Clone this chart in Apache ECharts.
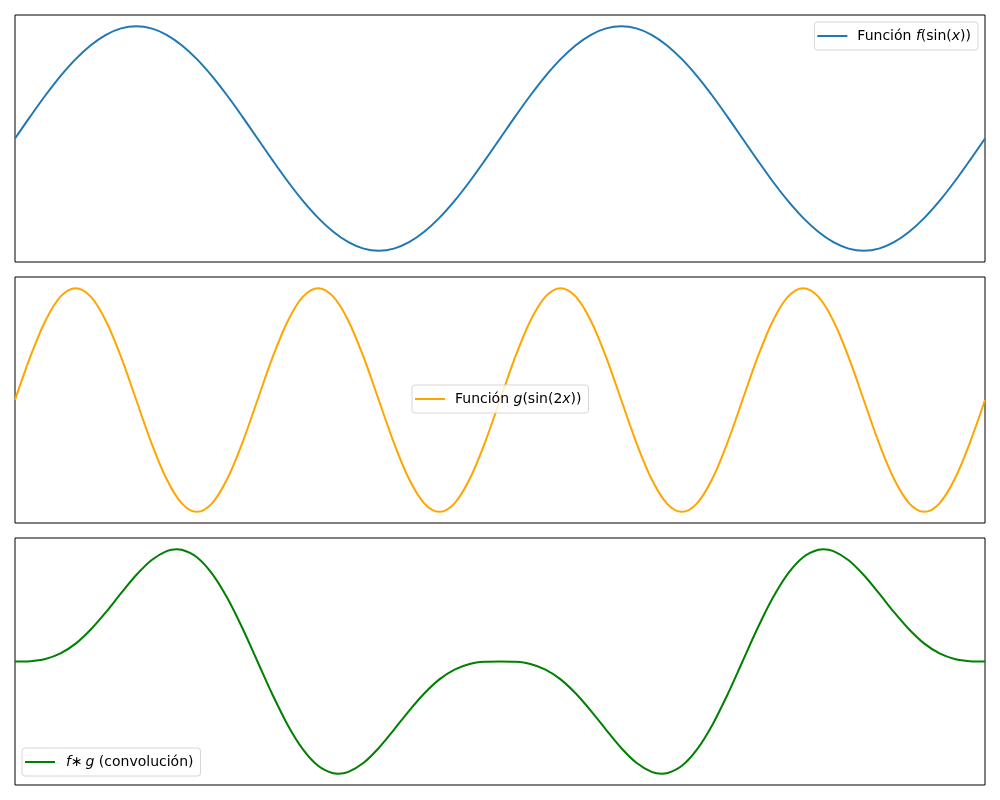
<!DOCTYPE html>
<html>
<head>
<meta charset="utf-8">
<script src="https://cdn.jsdelivr.net/npm/echarts@6/dist/echarts.min.js"></script>
<style>
html,body{margin:0;padding:0;background:#fff;}
#chart{width:1000px;height:800px;}
</style>
</head>
<body>
<div id="chart"></div>
<script>
// Values (x spans 0 .. 4π in 64 equal steps of π/16)
var fValues = [0, 0.195, 0.383, 0.556, 0.707, 0.831, 0.924, 0.981, 1.000, 0.981, 0.924, 0.831, 0.707, 0.556, 0.383, 0.195,
  0, -0.195, -0.383, -0.556, -0.707, -0.831, -0.924, -0.981, -1.000, -0.981, -0.924, -0.831, -0.707, -0.556, -0.383, -0.195,
  0, 0.195, 0.383, 0.556, 0.707, 0.831, 0.924, 0.981, 1.000, 0.981, 0.924, 0.831, 0.707, 0.556, 0.383, 0.195,
  0, -0.195, -0.383, -0.556, -0.707, -0.831, -0.924, -0.981, -1.000, -0.981, -0.924, -0.831, -0.707, -0.556, -0.383, -0.195, 0];

var gValues = [0, 0.383, 0.707, 0.924, 1.000, 0.924, 0.707, 0.383, 0, -0.383, -0.707, -0.924, -1.000, -0.924, -0.707, -0.383,
  0, 0.383, 0.707, 0.924, 1.000, 0.924, 0.707, 0.383, 0, -0.383, -0.707, -0.924, -1.000, -0.924, -0.707, -0.383,
  0, 0.383, 0.707, 0.924, 1.000, 0.924, 0.707, 0.383, 0, -0.383, -0.707, -0.924, -1.000, -0.924, -0.707, -0.383,
  0, 0.383, 0.707, 0.924, 1.000, 0.924, 0.707, 0.383, 0, -0.383, -0.707, -0.924, -1.000, -0.924, -0.707, -0.383, 0];

// Convolution curve: positions (in π/16 steps) and values, with the extrema added
var convX = [0, 1, 2, 3, 4, 5, 6, 7, 8, 9, 10, 10.667, 11, 12, 13, 14, 15,
  16, 17, 18, 19, 20, 21, 21.333, 22, 23, 24, 25, 26, 27, 28, 29, 30, 31,
  32, 33, 34, 35, 36, 37, 38, 39, 40, 41, 42, 42.667, 43, 44, 45, 46, 47,
  48, 49, 50, 51, 52, 53, 53.333, 54, 55, 56, 57, 58, 59, 60, 61, 62, 63, 64];
var convValues = [0, 0.003, 0.022, 0.072, 0.159, 0.285, 0.439, 0.608, 0.770, 0.902, 0.983, 1.000, 0.996, 0.929, 0.783, 0.567, 0.298,
  0, -0.298, -0.567, -0.783, -0.929, -0.996, -1.000, -0.983, -0.902, -0.770, -0.608, -0.439, -0.285, -0.159, -0.072, -0.022, -0.003,
  0, -0.003, -0.022, -0.072, -0.159, -0.285, -0.439, -0.608, -0.770, -0.902, -0.983, -1.000, -0.996, -0.929, -0.783, -0.567, -0.298,
  0, 0.298, 0.567, 0.783, 0.929, 0.996, 1.000, 0.983, 0.902, 0.770, 0.608, 0.439, 0.285, 0.159, 0.072, 0.022, 0.003, 0];

var seriesNames = ['Función f(sin(x))', 'Función g(sin(2x))', 'f * g (convolución)'];
var legendLabels = [
  '{p|Función }{i|f}{n|(sin(}{i|x}{n|))}',
  '{p|Función }{i|g}{n|(sin(2}{i|x}{n|))}',
  '{pi|f}{n|∗\u2009}{i|g}{n| (convolución)}'
];
var seriesColors = ['#1f77b4', '#ffa500', '#008000'];

var fX = fValues.map(function (_, i) { return i; });

function pairs(xs, ys) { return xs.map(function (x, i) { return [x, ys[i]]; }); }
var allData = [pairs(fX, fValues), pairs(fX, gValues), pairs(convX, convValues)];

var chart = echarts.init(document.getElementById('chart'), null, {renderer: 'canvas'});

var grids = [
  {left: 15, right: 15, top: 15, height: 247},
  {left: 15, right: 15, top: 277, height: 246},
  {left: 15, right: 15, top: 538, height: 247}
];
var legendPos = [
  {right: 22, top: 22},
  {left: 412, top: 385},
  {left: 22, top: 748}
];

var rich = {
  p: {fontFamily: 'DejaVu Sans', fontSize: 14, color: '#000', padding: [0, 0, 0, 5]},
  pi: {fontFamily: 'DejaVu Sans', fontStyle: 'italic', fontSize: 14, color: '#000', padding: [0, 0, 0, 6]},
  n: {fontFamily: 'DejaVu Sans', fontSize: 14, color: '#000'},
  i: {fontFamily: 'DejaVu Sans', fontStyle: 'italic', fontSize: 14, color: '#000'}
};

var option = {
  animation: false,
  backgroundColor: '#fff',
  grid: grids.map(function (g) {
    return Object.assign({show: true, borderColor: '#000', borderWidth: 1, backgroundColor: '#fff'}, g);
  }),
  xAxis: grids.map(function (_, i) {
    return {type: 'value', gridIndex: i, min: 0, max: 64,
      axisLine: {show: false}, axisTick: {show: false}, axisLabel: {show: false}, splitLine: {show: false}};
  }),
  yAxis: grids.map(function (_, i) {
    return {type: 'value', gridIndex: i, min: -1.1, max: 1.1,
      axisLine: {show: false}, axisTick: {show: false}, axisLabel: {show: false}, splitLine: {show: false}};
  }),
  legend: seriesNames.map(function (name, i) {
    return Object.assign({
      data: [name],
      icon: 'rect',
      itemWidth: 30,
      itemHeight: 2,
      padding: [7, 7, 7, 3],
      backgroundColor: 'rgba(255,255,255,0.8)',
      borderColor: '#d6d6d6',
      borderWidth: 1,
      borderRadius: 3,
      formatter: function () { return legendLabels[i]; },
      textStyle: {rich: rich, fontFamily: 'DejaVu Sans', fontSize: 14}
    }, legendPos[i]);
  }),
  series: seriesNames.map(function (name, i) {
    return {
      name: name, type: 'line', xAxisIndex: i, yAxisIndex: i,
      data: allData[i], smooth: 0.33, symbol: 'none',
      lineStyle: {color: seriesColors[i], width: 2},
      itemStyle: {color: seriesColors[i]}
    };
  })
};
chart.setOption(option);
</script>
</body>
</html>
